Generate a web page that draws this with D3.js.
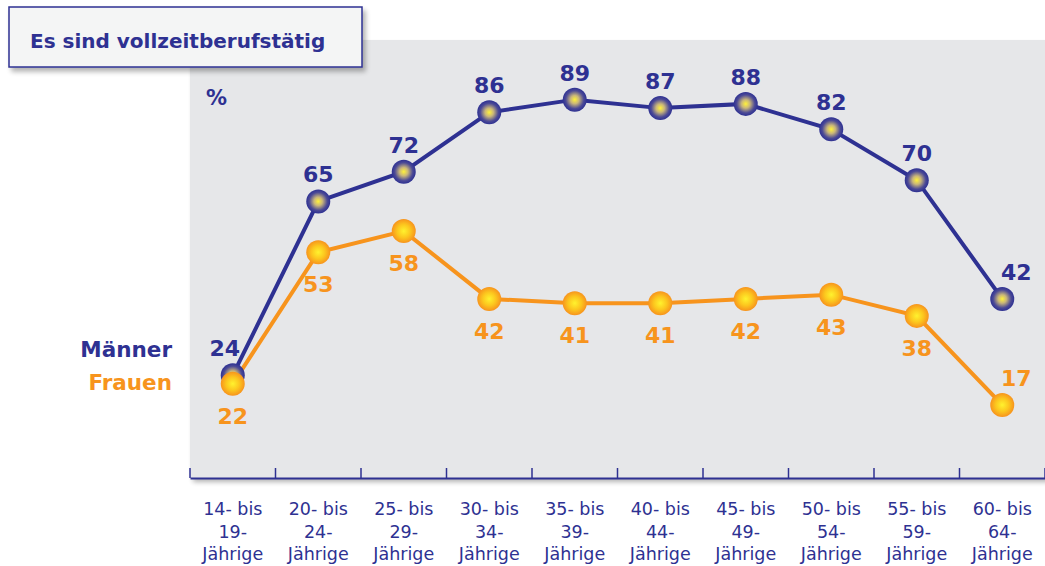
<!DOCTYPE html>
<html>
	<head>
		<meta charset="utf-8">
		<title>Es sind vollzeitberufstätig</title>
		<script src="https://d3js.org/d3.v7.min.js"></script>
		<style>
			body { margin: 0; background: #fff; }
			text { font-family: "DejaVu Sans", "Liberation Sans", sans-serif; }
		</style>
	</head>
	<body>
		<script>
			var categories = ["14- bis|19-|Jährige", "20- bis|24-|Jährige", "25- bis|29-|Jährige", "30- bis|34-|Jährige",
				"35- bis|39-|Jährige", "40- bis|44-|Jährige", "45- bis|49-|Jährige", "50- bis|54-|Jährige",
				"55- bis|59-|Jährige", "60- bis|64-|Jährige"];
			var maenner = [24, 65, 72, 86, 89, 87, 88, 82, 70, 42];
			var frauen = [22, 53, 58, 42, 41, 41, 42, 43, 38, 17];
			// where the Frauen labels sit (below the point except the last one)
			var frauenLabelPos = ["below", "below", "below", "below", "below", "below", "below", "below", "below", "above"];

			var w = 1045;
			var h = 566;
			var navy = "#2e3192";
			var orange = "#f7941d";

			var svg = d3.select("body")
				.append("svg")
				.attr("width", w)
				.attr("height", h);

			var defs = svg.append("defs");

			var sh = defs.append("filter").attr("id", "shadow")
				.attr("x", "-10%").attr("y", "-10%").attr("width", "130%").attr("height", "140%");
			sh.append("feGaussianBlur").attr("in", "SourceAlpha").attr("stdDeviation", 2.5);
			sh.append("feOffset").attr("dx", 3).attr("dy", 4).attr("result", "b");
			sh.append("feComponentTransfer").append("feFuncA").attr("type", "linear").attr("slope", 0.3);
			var mg = sh.append("feMerge");
			mg.append("feMergeNode");
			mg.append("feMergeNode").attr("in", "SourceGraphic");

			var gm = defs.append("radialGradient").attr("id", "gradM").attr("cx", "50%").attr("cy", "50%").attr("r", "50%");
			gm.append("stop").attr("offset", "0%").attr("stop-color", "#fff23a");
			gm.append("stop").attr("offset", "35%").attr("stop-color", "#c9b67a");
			gm.append("stop").attr("offset", "75%").attr("stop-color", "#4c4a96");
			gm.append("stop").attr("offset", "100%").attr("stop-color", "#2e3192");

			var gf = defs.append("radialGradient").attr("id", "gradF").attr("cx", "50%").attr("cy", "50%").attr("r", "50%");
			gf.append("stop").attr("offset", "0%").attr("stop-color", "#fff22e");
			gf.append("stop").attr("offset", "55%").attr("stop-color", "#fcc61e");
			gf.append("stop").attr("offset", "100%").attr("stop-color", "#f7941d");

			var plotLeft = 190, plotRight = 1045, plotTop = 40, plotBottom = 478;

			var xScale = d3.scaleBand()
				.domain(d3.range(categories.length))
				.range([plotLeft, plotRight]);

			var yScale = d3.scaleLinear()
				.domain([0, 100])
				.range([477, 53]);

			// plot panel
			svg.append("rect")
				.attr("x", plotLeft).attr("y", plotTop)
				.attr("width", plotRight - plotLeft + 10).attr("height", plotBottom - plotTop)
				.attr("fill", "#e6e7e9")
				.attr("filter", "url(#shadow)");

			// x axis
			var xAxis = d3.axisBottom(xScale).tickSize(0).tickFormat("");
			var ax = svg.append("g")
				.attr("transform", "translate(0," + plotBottom + ")")
				.call(xAxis);
			ax.select(".domain").attr("stroke", navy).attr("stroke-width", 1.8);
			svg.selectAll(".tickmark")
				.data(d3.range(categories.length + 1))
				.enter()
				.append("line")
				.attr("x1", function(d) { return plotLeft + d * xScale.bandwidth(); })
				.attr("x2", function(d) { return plotLeft + d * xScale.bandwidth(); })
				.attr("y1", plotBottom - 10)
				.attr("y2", plotBottom)
				.attr("stroke", navy)
				.attr("stroke-width", 1.5);

			var catLabels = svg.selectAll(".cat")
				.data(categories)
				.enter()
				.append("text")
				.attr("text-anchor", "middle")
				.attr("fill", navy)
				.attr("font-size", 17.5);
			catLabels.each(function(d, i) {
				var t = d3.select(this);
				d.split("|").forEach(function(line, k) {
					t.append("tspan")
						.attr("x", xScale(i) + xScale.bandwidth() / 2)
						.attr("y", 515 + k * 22.5)
						.text(line);
				});
			});

			function cx(i) { return xScale(i) + xScale.bandwidth() / 2; }

			var line = d3.line()
				.x(function(d, i) { return cx(i); })
				.y(function(d) { return yScale(d); });

			svg.append("path").datum(maenner)
				.attr("d", line).attr("fill", "none")
				.attr("stroke", navy).attr("stroke-width", 4);
			svg.append("path").datum(frauen)
				.attr("d", line).attr("fill", "none")
				.attr("stroke", orange).attr("stroke-width", 4);

			svg.selectAll(".pm")
				.data(maenner)
				.enter()
				.append("circle")
				.attr("cx", function(d, i) { return cx(i); })
				.attr("cy", function(d) { return yScale(d); })
				.attr("r", 12)
				.attr("fill", "url(#gradM)");

			svg.selectAll(".pf")
				.data(frauen)
				.enter()
				.append("circle")
				.attr("cx", function(d, i) { return cx(i); })
				.attr("cy", function(d) { return yScale(d); })
				.attr("r", 12)
				.attr("fill", "url(#gradF)");

			svg.selectAll(".lm")
				.data(maenner)
				.enter()
				.append("text")
				.attr("x", function(d, i) { return cx(i) + (i == 0 ? -8 : (i == 9 ? 14 : 0)); })
				.attr("y", function(d) { return yScale(d) - 19; })
				.attr("text-anchor", "middle")
				.attr("font-weight", "bold")
				.attr("font-size", 22)
				.attr("fill", navy)
				.text(function(d) { return d; });

			svg.selectAll(".lf")
				.data(frauen)
				.enter()
				.append("text")
				.attr("x", function(d, i) { return cx(i) + (i == 9 ? 14 : 0); })
				.attr("y", function(d, i) { return frauenLabelPos[i] == "above" ? yScale(d) - 19 : yScale(d) + 40; })
				.attr("text-anchor", "middle")
				.attr("font-weight", "bold")
				.attr("font-size", 22)
				.attr("fill", orange)
				.text(function(d) { return d; });

			// legend
			svg.append("text").attr("x", 172).attr("y", 357)
				.attr("text-anchor", "end").attr("font-weight", "bold").attr("font-size", 21.5)
				.attr("fill", navy).text("Männer");
			svg.append("text").attr("x", 172).attr("y", 390)
				.attr("text-anchor", "end").attr("font-weight", "bold").attr("font-size", 21.5)
				.attr("fill", orange).text("Frauen");

			svg.append("text").attr("x", 206).attr("y", 105)
				.attr("font-weight", "bold").attr("font-size", 21)
				.attr("fill", navy).text("%");

			// title box
			svg.append("rect")
				.attr("x", 9).attr("y", 7).attr("width", 353).attr("height", 60)
				.attr("fill", "#f4f5f5").attr("stroke", navy).attr("stroke-width", 1.5)
				.attr("filter", "url(#shadow)");
			svg.append("text").attr("x", 30).attr("y", 48)
				.attr("font-weight", "bold").attr("font-size", 20)
				.attr("fill", navy).text("Es sind vollzeitberufstätig");
		</script>
	</body>
</html>
